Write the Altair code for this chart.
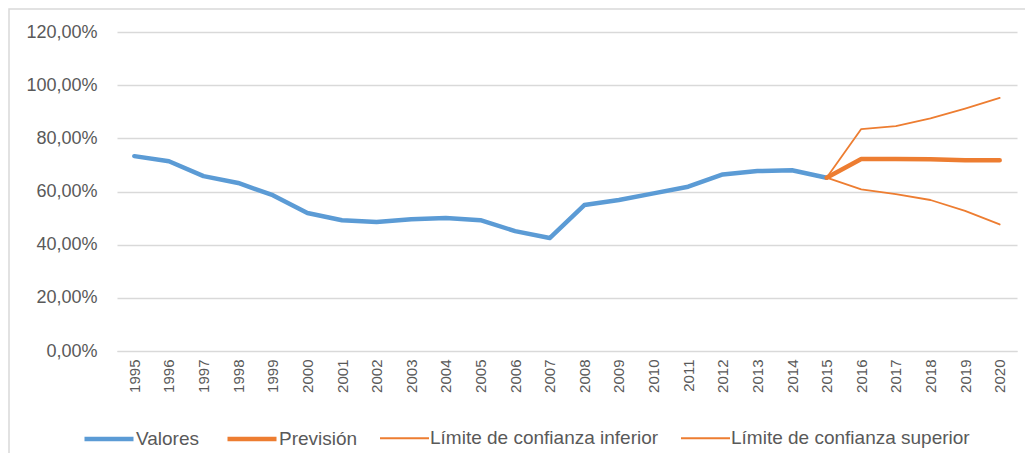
import altair as alt
import pandas as pd

years = [str(y) for y in range(1995, 2021)]
valores = [73.3, 71.4, 65.8, 63.2, 58.6, 51.9, 49.2, 48.5, 49.6, 50.0, 49.2, 45.1, 42.5,
           54.9, 56.8, 59.3, 61.8, 66.4, 67.7, 68.0, 65.2]
forecast_years = years[20:]  # 2015..2020
prevision = [65.2, 72.2, 72.2, 72.1, 71.8, 71.8]
inferior = [65.2, 60.8, 59.0, 56.8, 52.7, 47.6]
superior = [65.2, 83.5, 84.6, 87.5, 91.2, 95.2]
series_names = ["Valores", "Previsión", "Límite de confianza inferior", "Límite de confianza superior"]
series_colors = ["#5B9BD5", "#ED7D31", "#ED7D31", "#ED7D31"]
series_widths = [4.5, 4.5, 1.8, 1.8]
y_ticks = [0, 20, 40, 60, 80, 100, 120]

rows = []
for y, v in zip(years[:len(valores)], valores):
    rows.append({"year": y, "value": v, "serie": series_names[0], "order": 0})
for name, vals, k in [(series_names[1], prevision, 1), (series_names[2], inferior, 2), (series_names[3], superior, 3)]:
    for y, v in zip(forecast_years, vals):
        rows.append({"year": y, "value": v, "serie": name, "order": k})
df = pd.DataFrame(rows)

FONT = "Liberation Sans"

lines = alt.Chart(df).mark_line(strokeCap="round", strokeJoin="round").encode(
    x=alt.X("year:O", sort=years, scale=alt.Scale(domain=years, type="point", padding=0.5),
            axis=alt.Axis(title=None, labelAngle=270, labelAlign="right", labelBaseline="middle",
                          labelPadding=8, ticks=False, domain=True, domainColor="#D9D9D9",
                          grid=False, labelFontSize=15, labelColor="#595959", labelFont=FONT)),
    y=alt.Y("value:Q", scale=alt.Scale(domain=[0, 120], nice=False),
            axis=alt.Axis(title=None, values=y_ticks, domain=False, ticks=False,
                          gridColor="#D9D9D9", gridWidth=1.3, labelPadding=20,
                          labelFontSize=18, labelColor="#595959", labelFont=FONT,
                          labelExpr="replace(format(datum.value, '.2f'), '.', ',') + '%'")),
    color=alt.Color("serie:N", sort=series_names,
                    scale=alt.Scale(domain=series_names, range=series_colors),
                    legend=alt.Legend(title=None)),
    strokeWidth=alt.StrokeWidth("serie:N", sort=series_names,
                                scale=alt.Scale(type="ordinal", domain=series_names, range=series_widths),
                                legend=alt.Legend(title=None)),
    order=alt.Order("order:Q"),
)

frame = alt.Chart(pd.DataFrame({"a": [0]})).mark_rect(
    fill="transparent", stroke="#D9D9D9", strokeWidth=1.5
).encode(x=alt.value(-108), x2=alt.value(1000), y=alt.value(-23), y2=alt.value(500))

chart = alt.layer(frame, lines).properties(
    width=900, height=319,
    autosize=alt.AutoSizeParams(type="none"),
    padding={"left": 109, "top": 24, "right": 8, "bottom": 102},
    background="white",
).configure_view(stroke=None).configure_legend(
    orient="none", legendX=-35, legendY=380, direction="horizontal",
    symbolType="stroke", symbolSize=2401, labelFontSize=19, labelFont=FONT,
    labelColor="#595959", labelOffset=0, columnPadding=18, labelLimit=500,
)

chart.save("out.html", embed_options={"renderer": "svg", "actions": False})
